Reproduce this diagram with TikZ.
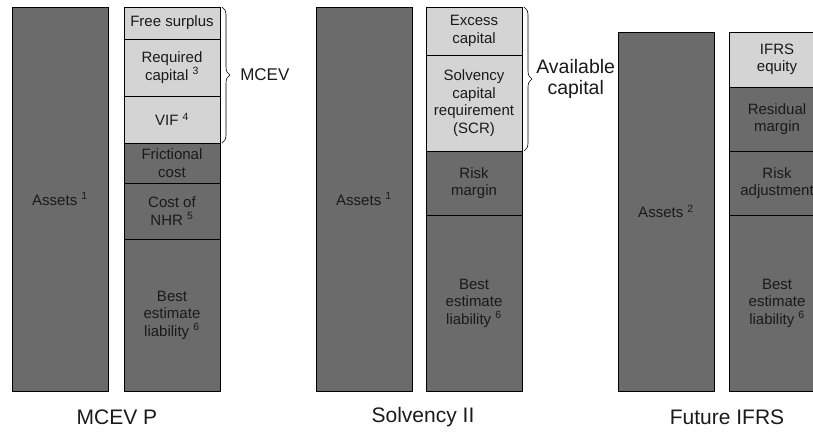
\documentclass[tikz,border=0pt]{standalone}
\usepackage{fontspec}
\setmainfont{Liberation Sans}
\usetikzlibrary{positioning,decorations.pathreplacing}

\definecolor{boxdark}{HTML}{6B6B6B}
\definecolor{boxlight}{HTML}{D4D4D4}
\definecolor{inktext}{HTML}{1A1A1A}

\tikzset{
  blk/.style={draw=black, line width=0.8pt, minimum width=96pt, inner sep=0pt,
              outer sep=0pt, align=center, text=inktext,
              font=\fontsize{15}{17.5}\selectfont},
  dark/.style={blk, fill=boxdark},
  light/.style={blk, fill=boxlight},
  brc/.style={decorate, decoration={brace, amplitude=8pt}, line width=0.6pt},
  brlbl/.style={anchor=west, inner sep=0pt, align=center, text=inktext},
  paneltitle/.style={inner sep=0pt, text=inktext, font=\fontsize{21}{23}\selectfont}
}

\begin{document}
\begin{tikzpicture}
   \useasboundingbox (0,0) rectangle (813pt,-432pt);
   \clip (0,0) rectangle (813pt,-432pt);

   % MCEV P
   \node[dark, minimum height=384pt, anchor=north west] (assA) at (12pt,-7pt) {Assets \textsuperscript{1}};
   \node[light, minimum height=32pt, anchor=north west] (fs) at (124pt,-7pt) {Free surplus};
   \node[light, minimum height=57pt, below=0pt of fs]  (rc)  {Required\\capital \textsuperscript{3}};
   \node[light, minimum height=47pt, below=0pt of rc]  (vif) {VIF \textsuperscript{4}};
   \node[dark, minimum height=40pt, below=0pt of vif]  (fc)  {Frictional\\cost};
   \node[dark, minimum height=56pt, below=0pt of fc]   (nhr) {Cost of\\NHR \textsuperscript{5}};
   \node[dark, minimum height=152pt, below=0pt of nhr] (belA) {Best\\estimate\\liability \textsuperscript{6}};
   \draw[brc] ([xshift=2pt]fs.north east) -- ([xshift=2pt]vif.south east)
        node[brlbl, midway, xshift=18pt, font=\fontsize{17}{19}\selectfont] (mcev) {MCEV};
   \node[paneltitle] (ttlA) at (117pt,-417pt) {MCEV P};

   % Solvency II
   \node[dark, minimum height=384pt, anchor=north west] (assB) at (316pt,-7pt) {Assets \textsuperscript{1}};
   \node[light, minimum height=48pt, anchor=north west] (ec) at (426pt,-7pt) {Excess\\capital};
   \node[light, minimum height=96pt, below=0pt of ec]  (scr) {Solvency\\capital\\requirement\\(SCR)};
   \node[dark, minimum height=64pt, below=0pt of scr]  (rm)  {Risk\\margin};
   \node[dark, minimum height=176pt, below=0pt of rm]  (belB) {Best\\estimate\\liability \textsuperscript{6}};
   \draw[brc] ([xshift=2pt]ec.north east) -- ([xshift=2pt]scr.south east)
        node[brlbl, midway, xshift=12pt, font=\fontsize{19.5}{21}\selectfont] (avail) {Available\\capital};
   \node[paneltitle] (ttlB) at (423pt,-417pt) {Solvency II};

   % Future IFRS
   \node[dark, minimum height=359pt, anchor=north west] (assC) at (618pt,-32pt) {Assets \textsuperscript{2}};
   \node[light, minimum height=55pt, anchor=north west] (eq) at (729pt,-32pt) {IFRS\\equity};
   \node[dark, minimum height=64pt, below=0pt of eq]   (resm) {Residual\\margin};
   \node[dark, minimum height=64pt, below=0pt of resm] (ra)   {Risk\\adjustment};
   \node[dark, minimum height=176pt, below=0pt of ra]  (belC) {Best\\estimate\\liability \textsuperscript{6}};
   \node[paneltitle] (ttlC) at (727pt,-417pt) {Future IFRS};
\end{tikzpicture}
\end{document}
